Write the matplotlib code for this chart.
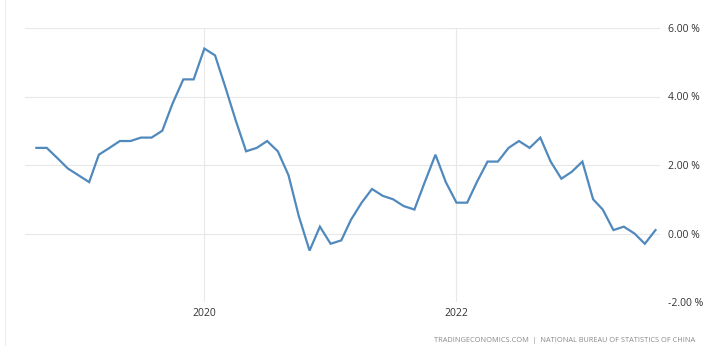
import matplotlib
matplotlib.use("Agg")
import matplotlib.pyplot as plt
import matplotlib.dates as mdates
import pandas as pd

start_month = "2018-09-01"
cpi_values = [2.5, 2.5, 2.2, 1.9, 1.7, 1.5, 2.3, 2.5, 2.7, 2.7, 2.8, 2.8,
              3.0, 3.8, 4.5, 4.5, 5.4, 5.2, 4.3, 3.3, 2.4, 2.5, 2.7, 2.4,
              1.7, 0.5, -0.5, 0.2, -0.3, -0.2, 0.4, 0.9, 1.3, 1.1, 1.0, 0.8,
              0.7, 1.5, 2.3, 1.5, 0.9, 0.9, 1.5, 2.1, 2.1, 2.5, 2.7, 2.5,
              2.8, 2.1, 1.6, 1.8, 2.1, 1.0, 0.7, 0.1, 0.2, 0.0, -0.3, 0.1]
y_ticks = [-2, 0, 2, 4, 6]
y_tick_labels = ["-2.00 %", "0.00 %", "2.00 %", "4.00 %", "6.00 %"]
x_ticks = ["2020-01-01", "2022-01-01"]
x_tick_labels = ["2020", "2022"]
source = "TRADINGECONOMICS.COM  |  NATIONAL BUREAU OF STATISTICS OF CHINA"

dates = pd.date_range(start_month, periods=len(cpi_values), freq="MS")

plt.rcParams['font.family'] = ['Open Sans', 'DejaVu Sans']
fig = plt.figure(figsize=(7.19, 3.58), dpi=100)
ax = fig.add_axes([25/719, 1-302/358, (660-25)/719, (302-28)/358])

ax.plot(dates, cpi_values, color="#5089bd", linewidth=1.6, solid_joinstyle="miter")

ax.set_ylim(-2, 6)
ax.set_xlim(pd.Timestamp("2018-07-30"), pd.Timestamp("2023-08-14"))
ax.set_yticks(y_ticks)
ax.set_yticklabels(y_tick_labels)
ax.set_xticks([pd.Timestamp(d) for d in x_ticks])
ax.set_xticklabels(x_tick_labels)

ax.yaxis.tick_right()
ax.tick_params(axis="y", length=0, pad=6, labelsize=7.5, labelcolor="#333333")
ax.tick_params(axis="x", length=0, pad=4, labelsize=7.5, labelcolor="#333333")

ax.grid(True, color="#e8e8e8", linewidth=0.8)
ax.set_axisbelow(True)
for s in ax.spines.values():
    s.set_visible(False)

# faint frame edge at left
fig.add_artist(plt.Line2D([5/719, 5/719], [1-345/358, 1.0], color="#efefef", linewidth=0.8))

fig.text(695/719, 1-341/358, source, ha="right", va="center",
         fontsize=5.3, color="#8a8a8a")

fig.savefig("out.png", dpi=100, facecolor="white")
